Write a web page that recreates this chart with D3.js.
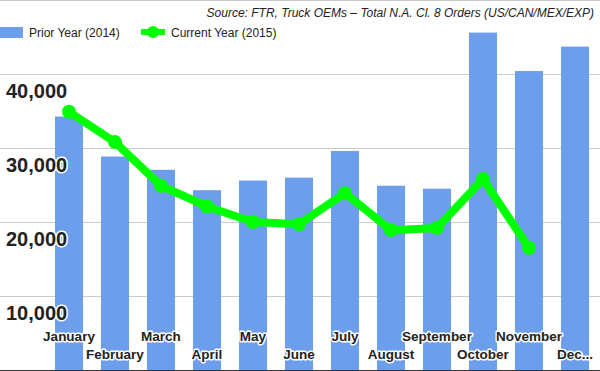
<!DOCTYPE html>
<html>
<head>
<meta charset="utf-8">
<script src="https://cdn.jsdelivr.net/npm/d3@7"></script>
<style>
  body { margin: 0; background: #fff; }
  svg { display: block; }
  .halo { paint-order: stroke; stroke: #fff; stroke-width: 3px; stroke-linejoin: round; }
</style>
</head>
<body>
<div id="chart"></div>
<script>
var months = ['January', 'February', 'March', 'April', 'May', 'June', 'July',
  'August', 'September', 'October', 'November', 'December'];
var monthLabels = ['January', 'February', 'March', 'April', 'May', 'June', 'July',
  'August', 'September', 'October', 'November', 'Dec...'];
var prior2014 = [34250, 28850, 27050, 24300, 25600, 26000, 29600, 24900, 24500, 45600, 40400, 43700];
var current2015 = [34900, 30800, 24900, 22100, 20000, 19700, 23900, 18900, 19200, 25800, 16500];
var yTicks = [10000, 20000, 30000, 40000, 50000];
var sourceText = 'Source: FTR, Truck OEMs \u2013 Total N.A. Cl. 8 Orders (US/CAN/MEX/EXP)';
var legendNames = ['Prior Year (2014)', 'Current Year (2015)'];

var width = 600, height = 371;
var barColor = '#6d9eeb', lineColor = '#00ff00';
var font = "'Liberation Sans', Arial, sans-serif";

var svg = d3.select('#chart').append('svg')
  .attr('width', width).attr('height', height)
  .attr('font-family', font);

var x = d3.scaleBand().domain(months).range([46, 598]).paddingInner(0.39).paddingOuter(0.195);
var y = d3.scaleLinear().domain([0, 50000]).range([370, 0]);

// gridlines
svg.append('g').selectAll('line').data(yTicks).join('line')
  .attr('x1', 0).attr('x2', width)
  .attr('y1', d => Math.round(y(d)) + 0.5).attr('y2', d => Math.round(y(d)) + 0.5)
  .attr('stroke', '#cccccc').attr('stroke-width', 1);

// bars
svg.append('g').selectAll('rect').data(prior2014).join('rect')
  .attr('x', (d, i) => x(months[i]))
  .attr('width', x.bandwidth())
  .attr('y', d => y(d))
  .attr('height', d => y(0) - y(d))
  .attr('fill', barColor);

// baseline
svg.append('line')
  .attr('x1', 0).attr('x2', width)
  .attr('y1', y(0) + 0.5).attr('y2', y(0) + 0.5)
  .attr('stroke', '#333').attr('stroke-width', 1);

// line
var line = d3.line()
  .x((d, i) => x(months[i]) + x.bandwidth() / 2)
  .y(d => y(d));
svg.append('path').datum(current2015)
  .attr('d', line)
  .attr('fill', 'none')
  .attr('stroke', lineColor)
  .attr('stroke-width', 8)
  .attr('stroke-linejoin', 'round');
svg.append('g').selectAll('circle').data(current2015).join('circle')
  .attr('cx', (d, i) => x(months[i]) + x.bandwidth() / 2)
  .attr('cy', d => y(d))
  .attr('r', 7)
  .attr('fill', lineColor);

// y labels
svg.append('g').selectAll('text').data(yTicks.filter(d => d < 50000)).join('text')
  .attr('class', 'halo')
  .attr('x', 6)
  .attr('y', d => y(d) + 24)
  .attr('font-size', 20).attr('font-weight', 'bold')
  .attr('fill', '#222')
  .text(d => d3.format(',')(d));

// x labels (staggered)
svg.append('g').selectAll('text').data(monthLabels).join('text')
  .attr('class', 'halo')
  .attr('x', (d, i) => x(months[i]) + x.bandwidth() / 2)
  .attr('y', (d, i) => i % 2 === 0 ? 341 : 359)
  .attr('text-anchor', 'middle')
  .attr('font-size', 13.5).attr('font-weight', 'bold')
  .attr('fill', '#222')
  .text(d => d);

// source
svg.append('text')
  .attr('x', 594).attr('y', 17)
  .attr('text-anchor', 'end')
  .attr('font-size', 12).attr('font-style', 'italic')
  .attr('fill', '#222')
  .text(sourceText);

// legend
var lg = svg.append('g');
lg.append('rect').attr('x', 0).attr('y', 27).attr('width', 23).attr('height', 11).attr('fill', barColor);
lg.append('text').attr('x', 29).attr('y', 37).attr('font-size', 12).attr('fill', '#222').text(legendNames[0]);
lg.append('line').attr('x1', 141).attr('x2', 165).attr('y1', 32).attr('y2', 32)
  .attr('stroke', lineColor).attr('stroke-width', 6);
lg.append('circle').attr('cx', 153).attr('cy', 32).attr('r', 6).attr('fill', lineColor);
lg.append('text').attr('x', 171).attr('y', 37).attr('font-size', 12).attr('fill', '#222').text(legendNames[1]);
</script>
</body>
</html>
